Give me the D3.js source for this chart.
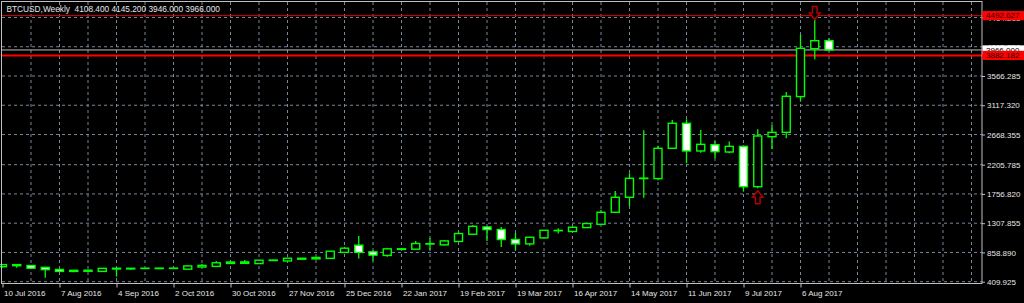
<!DOCTYPE html>
<html><head><meta charset="utf-8">
<script src="https://cdn.jsdelivr.net/npm/d3@7"></script>
<style>html,body{margin:0;padding:0;background:#000;overflow:hidden}svg{display:block}</style>
</head><body>
<svg id="chart" width="1024" height="303"></svg>
<script>
// ---- data ----
const weeks = ["2016-07-10","2016-07-17","2016-07-24","2016-07-31","2016-08-07","2016-08-14","2016-08-21","2016-08-28",
"2016-09-04","2016-09-11","2016-09-18","2016-09-25","2016-10-02","2016-10-09","2016-10-16","2016-10-23","2016-10-30",
"2016-11-06","2016-11-13","2016-11-20","2016-11-27","2016-12-04","2016-12-11","2016-12-18","2016-12-25",
"2017-01-01","2017-01-08","2017-01-15","2017-01-22","2017-01-29","2017-02-05","2017-02-12","2017-02-19","2017-02-26",
"2017-03-05","2017-03-12","2017-03-19","2017-03-26","2017-04-02","2017-04-09","2017-04-16","2017-04-23","2017-04-30",
"2017-05-07","2017-05-14","2017-05-21","2017-05-28","2017-06-04","2017-06-11","2017-06-18","2017-06-25",
"2017-07-02","2017-07-09","2017-07-16","2017-07-23","2017-07-30","2017-08-06","2017-08-13","2017-08-20"];
const open  = [640,655,658,630,598,568,570,568,605,606,612,611,613,602,635,645,690,692,688,735,728,755,760,768,860,
970,868,813,905,909,988,975,1027,1138,1250,1210,1057,990,1082,1193,1180,1240,1291,1475,1705,1992,1992,2457,2841,2416,2512,
2400,2487,1868,2635,2702,3250,3985,4108.4];
const high  = [682,680,662,635,603,590,592,620,622,620,620,621,622,656,680,726,716,741,744,750,773,773,790,880,944,
1112,894,929,922,1036,1082,1045,1180,1275,1262,1250,1158,1100,1205,1230,1250,1320,1510,1802,2073,2734,2497,2891,2902,2738,2564,
2560,2500,2748,2815,3321,4195,4440,4145.2];
const low   = [628,625,612,470,562,555,565,565,487,590,608,606,609,598,630,642,685,688,685,728,725,752,755,765,855,
767,731,793,900,905,898,965,1022,1130,1036,944,894,960,1078,1149,1175,1236,1284,1470,1572,1699,1968,2450,2227,2390,2303,
2380,1791,1843,2446,2611,3172,3822,3946];
const close = [672,672,618,595,568,585,586,615,617,616,617,618,618,652,660,700,712,714,740,742,770,770,782,878,924,
860,818,914,915,996,994,1036,1149,1260,1210,1057,990,1092,1199,1197,1245,1302,1475,1705,1997,1999,2457,2841,2416,2518,2405,
2487,1868,2646,2702,3255,3991,4108,3966];
const priceTicks = [409.925, 858.890, 1307.855, 1756.820, 2205.785, 2668.355, 3117.320, 3566.285, 4015.250, 4464.215];
const dateTickLabels = ["10 Jul 2016","7 Aug 2016","4 Sep 2016","2 Oct 2016","30 Oct 2016","27 Nov 2016","25 Dec 2016",
"22 Jan 2017","19 Feb 2017","19 Mar 2017","16 Apr 2017","14 May 2017","11 Jun 2017","9 Jul 2017","6 Aug 2017"];
const fractalUp = ["2017-07-16"];    // arrow below low
const fractalDown = ["2017-08-13"];  // arrow above high
const levelLines = [4492.627, 3882.182];
const bidPrice = 3966.000;
const title = "BTCUSD,Weekly  4108.400 4145.200 3946.000 3966.000";

// ---- setup ----
const svg = d3.select("#chart");
const parseISO = d3.utcParse("%Y-%m-%d");
const parseLbl = d3.utcParse("%d %b %Y");
const bars = weeks.map((w,i)=>({date:parseISO(w), o:open[i], h:high[i], l:low[i], c:close[i]}));

const L = 2, R = 982, T = 2, B = 283.5;
const x = d3.scaleUtc().domain([bars[0].date, bars[bars.length-1].date]).range([2.5, 2.5 + 14.25*(bars.length-1)]);
const y = d3.scaleLinear().domain([409.925, 3566.285]).range([281.7, 76]);

svg.append("rect").attr("width",1024).attr("height",303).attr("fill","#000");

const gridColor = "#778899";
// horizontal grid
svg.append("g").selectAll("line").data(priceTicks).join("line")
  .attr("x1",L).attr("x2",R).attr("y1",d=>y(d)).attr("y2",d=>y(d))
  .attr("stroke",gridColor).attr("stroke-width",1).attr("stroke-dasharray","3,3");
// vertical grid every 2 weeks
const vg = [];
for (let k=1;;k++){ const d = new Date(bars[0].date.getTime() + k*14*864e5); if (x(d) > R-5) break; vg.push(d); }
svg.append("g").selectAll("line").data(vg).join("line")
  .attr("x1",d=>x(d)).attr("x2",d=>x(d)).attr("y1",T).attr("y2",B)
  .attr("stroke",gridColor).attr("stroke-width",1).attr("stroke-dasharray","3,3");

// level lines
svg.append("line").attr("x1",L).attr("x2",R).attr("y1",y(levelLines[0])).attr("y2",y(levelLines[0]))
  .attr("stroke","#e00000").attr("stroke-width",1);
svg.append("line").attr("x1",L).attr("x2",R).attr("y1",y(bidPrice)).attr("y2",y(bidPrice))
  .attr("stroke","#c0c0c0").attr("stroke-width",1);
svg.append("line").attr("x1",L).attr("x2",R).attr("y1",y(levelLines[1])).attr("y2",y(levelLines[1]))
  .attr("stroke","#ff0000").attr("stroke-width",2);

// candles
const green = "#00ff00";
const cg = svg.append("g");
cg.selectAll("line.wick").data(bars).join("line").attr("class","wick")
  .attr("x1",d=>x(d.date)).attr("x2",d=>x(d.date)).attr("y1",d=>y(d.h)).attr("y2",d=>y(d.l))
  .attr("stroke",green).attr("stroke-width",1.3);
cg.selectAll("rect.body").data(bars).join("rect").attr("class","body")
  .attr("x",d=>x(d.date)-4).attr("width",8)
  .attr("y",d=>y(Math.max(d.o,d.c)))
  .attr("height",d=>Math.max(0.3, y(Math.min(d.o,d.c)) - y(Math.max(d.o,d.c))))
  .attr("fill",d=> d.c >= d.o ? "#000" : "#fff")
  .attr("stroke",green).attr("stroke-width",1.4);

// fractal arrows
const arrowColor = "#b00000";
function downArrow(cx, ty){ // tip at ty (bottom)
  return `M${cx-2.3},${ty-13}H${cx+2.3}V${ty-6.5}H${cx+5.2}L${cx},${ty}L${cx-5.2},${ty-6.5}H${cx-2.3}Z`;
}
function upArrow(cx, ty){ // tip at ty (top)
  return `M${cx-2.3},${ty+13}H${cx+2.3}V${ty+6.5}H${cx+5.2}L${cx},${ty}L${cx-5.2},${ty+6.5}H${cx-2.3}Z`;
}
const byDate = new Map(bars.map(b=>[weeks[bars.indexOf(b)], b]));
fractalDown.forEach(w=>{ const b = byDate.get(w);
  svg.append("path").attr("d",downArrow(x(b.date), y(b.h)+0.5)).attr("fill","#000").attr("stroke",arrowColor).attr("stroke-width",1.5); });
fractalUp.forEach(w=>{ const b = byDate.get(w);
  svg.append("path").attr("d",upArrow(x(b.date), y(b.l)+2.5)).attr("fill","#000").attr("stroke",arrowColor).attr("stroke-width",1.5); });

// frame
svg.append("rect").attr("x",1.5).attr("y",1.5).attr("width",R-1.5).attr("height",B-1.5)
  .attr("fill","none").attr("stroke","#c0c0c0").attr("stroke-width",1);

const font = "'Liberation Sans', Arial, sans-serif";
const textColor = "#e6e6e6";

// right axis
const ya = svg.append("g").attr("transform",`translate(${R},0)`)
  .call(d3.axisRight(y).tickValues(priceTicks).tickSize(3).tickPadding(2).tickFormat(d=>d.toFixed(3)));
ya.select(".domain").remove();
ya.selectAll("line").attr("stroke","#c0c0c0");
ya.selectAll("text").attr("fill",textColor).attr("font-family",font).attr("font-size","8px");

// bottom axis
const dateTicks = dateTickLabels.map(s=>parseLbl(s));
const xa = svg.append("g").attr("transform",`translate(0,${B})`)
  .call(d3.axisBottom(x).tickValues(dateTicks).tickSize(4).tickPadding(3).tickFormat((d,i)=>dateTickLabels[i]));
xa.select(".domain").remove();
xa.selectAll("line").attr("stroke","#c0c0c0");
xa.selectAll("text").attr("fill",textColor).attr("font-family",font).attr("font-size","8px")
  .attr("text-anchor","start").attr("dx","1");

// price label boxes
function priceBox(v, bg, fg){
  const g = svg.append("g");
  g.append("rect").attr("x",R+0.5).attr("y",y(v)-4.6).attr("width",1024-R).attr("height",9.2).attr("fill",bg);
  g.append("text").attr("x",R+4).attr("y",y(v)).attr("dy","0.35em").attr("fill",fg)
    .attr("font-family",font).attr("font-size","8px").text(v.toFixed(3));
}
priceBox(bidPrice, "#ffffff", "#000");
priceBox(levelLines[0], "#ff0000", "#1a0000");
priceBox(levelLines[1], "#ff0000", "#1a0000");

// title
svg.append("text").attr("x",6.5).attr("y",12).attr("fill",textColor).attr("font-family",font)
  .attr("font-size","8.3px").style("white-space","pre").text(title);
</script>
</body></html>
